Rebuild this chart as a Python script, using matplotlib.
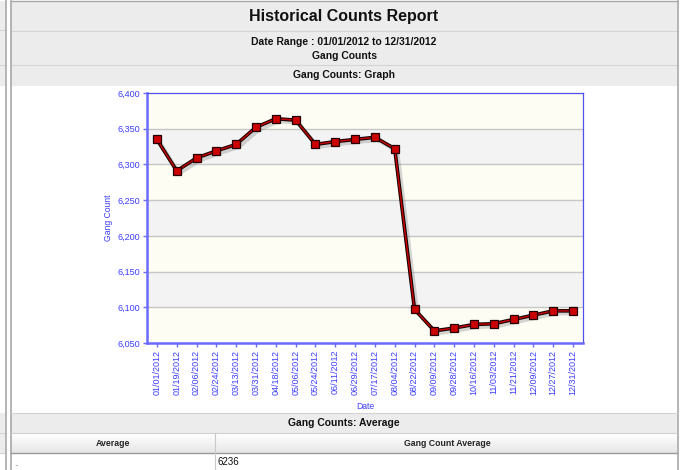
import matplotlib
matplotlib.use("Agg")
import matplotlib.pyplot as plt
import matplotlib.patheffects as pe
from matplotlib.patches import Rectangle

plt.rcParams['font.family'] = ['Liberation Sans', 'DejaVu Sans']

# data
dates = ["01/01/2012", "01/19/2012", "02/06/2012", "02/24/2012", "03/13/2012",
         "03/31/2012", "04/18/2012", "05/06/2012", "05/24/2012", "06/11/2012",
         "06/29/2012", "07/17/2012", "08/04/2012", "08/22/2012", "09/09/2012",
         "09/28/2012", "10/16/2012", "11/03/2012", "11/21/2012", "12/09/2012",
         "12/27/2012", "12/31/2012"]
counts = [6335, 6291, 6309, 6319, 6328, 6352, 6364, 6362, 6328, 6332,
          6335, 6338, 6322, 6097, 6067, 6071, 6076, 6077, 6083, 6089,
          6095, 6095]
y_ticks = [6050, 6100, 6150, 6200, 6250, 6300, 6350, 6400]
average_value = "6236"

W, H = 681, 470
fig = plt.figure(figsize=(W / 100, H / 100), dpi=100)
fig.patch.set_facecolor("white")

# page layout drawn in pixel coords
bg = fig.add_axes([0, 0, 1, 1])
bg.set_xlim(0, W)
bg.set_ylim(H, 0)
bg.axis("off")

hdr = "#ececec"
line_c = "#d4d4d4"
border = "#a8a8a8"

# left strip
bg.add_patch(Rectangle((0, 1), 5, 85, fc=hdr, ec="none"))
bg.add_patch(Rectangle((0, 413), 5, 40, fc=hdr, ec="none"))
for yy in (30, 65, 433, 453):
    bg.plot([0, 5], [yy, yy], color=line_c, lw=0.8)
bg.plot([5.5, 5.5], [0, H], color=border, lw=1.2)

# main panel header rows
bg.add_patch(Rectangle((11, 1), 666, 85, fc=hdr, ec="none"))
for yy in (30.5, 65):
    bg.plot([11, 677], [yy, yy], color=line_c, lw=0.8)
bg.plot([11, 677], [1, 1], color=border, lw=1)
bg.plot([10.5, 10.5], [1, H], color=border, lw=1.2)
bg.plot([677.5, 677.5], [1, H], color=border, lw=1.2)

bg.text(344, 16, "Historical Counts Report", ha="center", va="center",
        fontsize=11.5, fontweight="bold", color="#111111")
bg.text(344, 42, "Date Range : 01/01/2012 to 12/31/2012", ha="center", va="center",
        fontsize=7.5, fontweight="bold", color="#111111")
bg.text(344, 56, "Gang Counts", ha="center", va="center",
        fontsize=7.5, fontweight="bold", color="#111111")
bg.text(344, 75, "Gang Counts: Graph", ha="center", va="center",
        fontsize=7.5, fontweight="bold", color="#111111")

# average section
bg.add_patch(Rectangle((11, 413), 666, 20, fc=hdr, ec="none"))
bg.plot([11, 677], [413, 413], color=line_c, lw=0.8)
bg.text(344, 423, "Gang Counts: Average", ha="center", va="center",
        fontsize=7.5, fontweight="bold", color="#111111")
# gradient table header
for i in range(20):
    g = 1.0 - 0.1 * i / 19
    bg.add_patch(Rectangle((11, 433 + i), 666, 1.05, fc=(g, g, min(1, g + 0.005)), ec="none"))
bg.plot([11, 677], [433, 433], color="#d0d0d0", lw=0.8)
bg.plot([11, 677], [453, 453], color="#9a9a9a", lw=1)
bg.plot([214.5, 214.5], [433, H], color="#c8c8c8", lw=0.8)
bg.text(113, 443, "Average", ha="center", va="center", fontsize=6.3,
        fontweight="bold", color="#222222")
bg.text(447, 443, "Gang Count Average", ha="center", va="center", fontsize=6.3,
        fontweight="bold", color="#222222")
bg.text(14, 464, "..", ha="left", va="center", fontsize=6, color="#666666")
bg.text(218, 462, average_value, ha="left", va="center", fontsize=7, color="#111111")

# chart
ax = fig.add_axes([147 / W, 1 - 343 / H, (583 - 147) / W, (343 - 93) / H])
x = list(range(len(dates)))
ax.set_xlim(-0.5, len(dates) - 0.5)
ax.set_ylim(6050, 6400)

band_a = "#fdfdf4"
band_b = "#f3f3f3"
for k in range(len(y_ticks) - 1):
    ax.axhspan(y_ticks[k], y_ticks[k + 1], color=band_a if k % 2 == 0 else band_b,
               lw=0, zorder=0)
for t in y_ticks[1:-1]:
    ax.axhline(t, color="#c6c6c6", lw=1, zorder=1)

shadow = [pe.SimpleLineShadow(offset=(2, -2), shadow_color="#888888", alpha=0.35),
          pe.Normal()]
ax.plot(x, counts, color="#1a0000", lw=2.6, zorder=3, path_effects=shadow)
ax.plot(x, counts, color="#cc0000", lw=1.0, zorder=4)
ax.plot(x, counts, ls="none", marker="s", ms=5.2, mfc="#cc0000", mec="#220000",
        mew=0.9, zorder=5)

blue = "#3c3cff"
axis_blue = "#6a6aff"
ax.set_xticks(x)
ax.set_xticklabels(dates, rotation=90, fontsize=6.5, color=blue)
ax.set_yticks(y_ticks)
ax.set_yticklabels([f"{v:,}" for v in y_ticks], fontsize=6.5, color=blue)
ax.tick_params(axis="both", colors=axis_blue, length=3, width=1, pad=2,
               labelcolor=blue)
for side in ("left", "bottom"):
    ax.spines[side].set_color(axis_blue)
    ax.spines[side].set_linewidth(1.8)
for side in ("top", "right"):
    ax.spines[side].set_color("#5050ee")
    ax.spines[side].set_linewidth(0.9)
ax.set_ylabel("Gang Count", fontsize=6.2, color=blue, labelpad=3)
ax.set_xlabel("Date", fontsize=6.2, color=blue, labelpad=5)

fig.savefig("out.png", dpi=100)
